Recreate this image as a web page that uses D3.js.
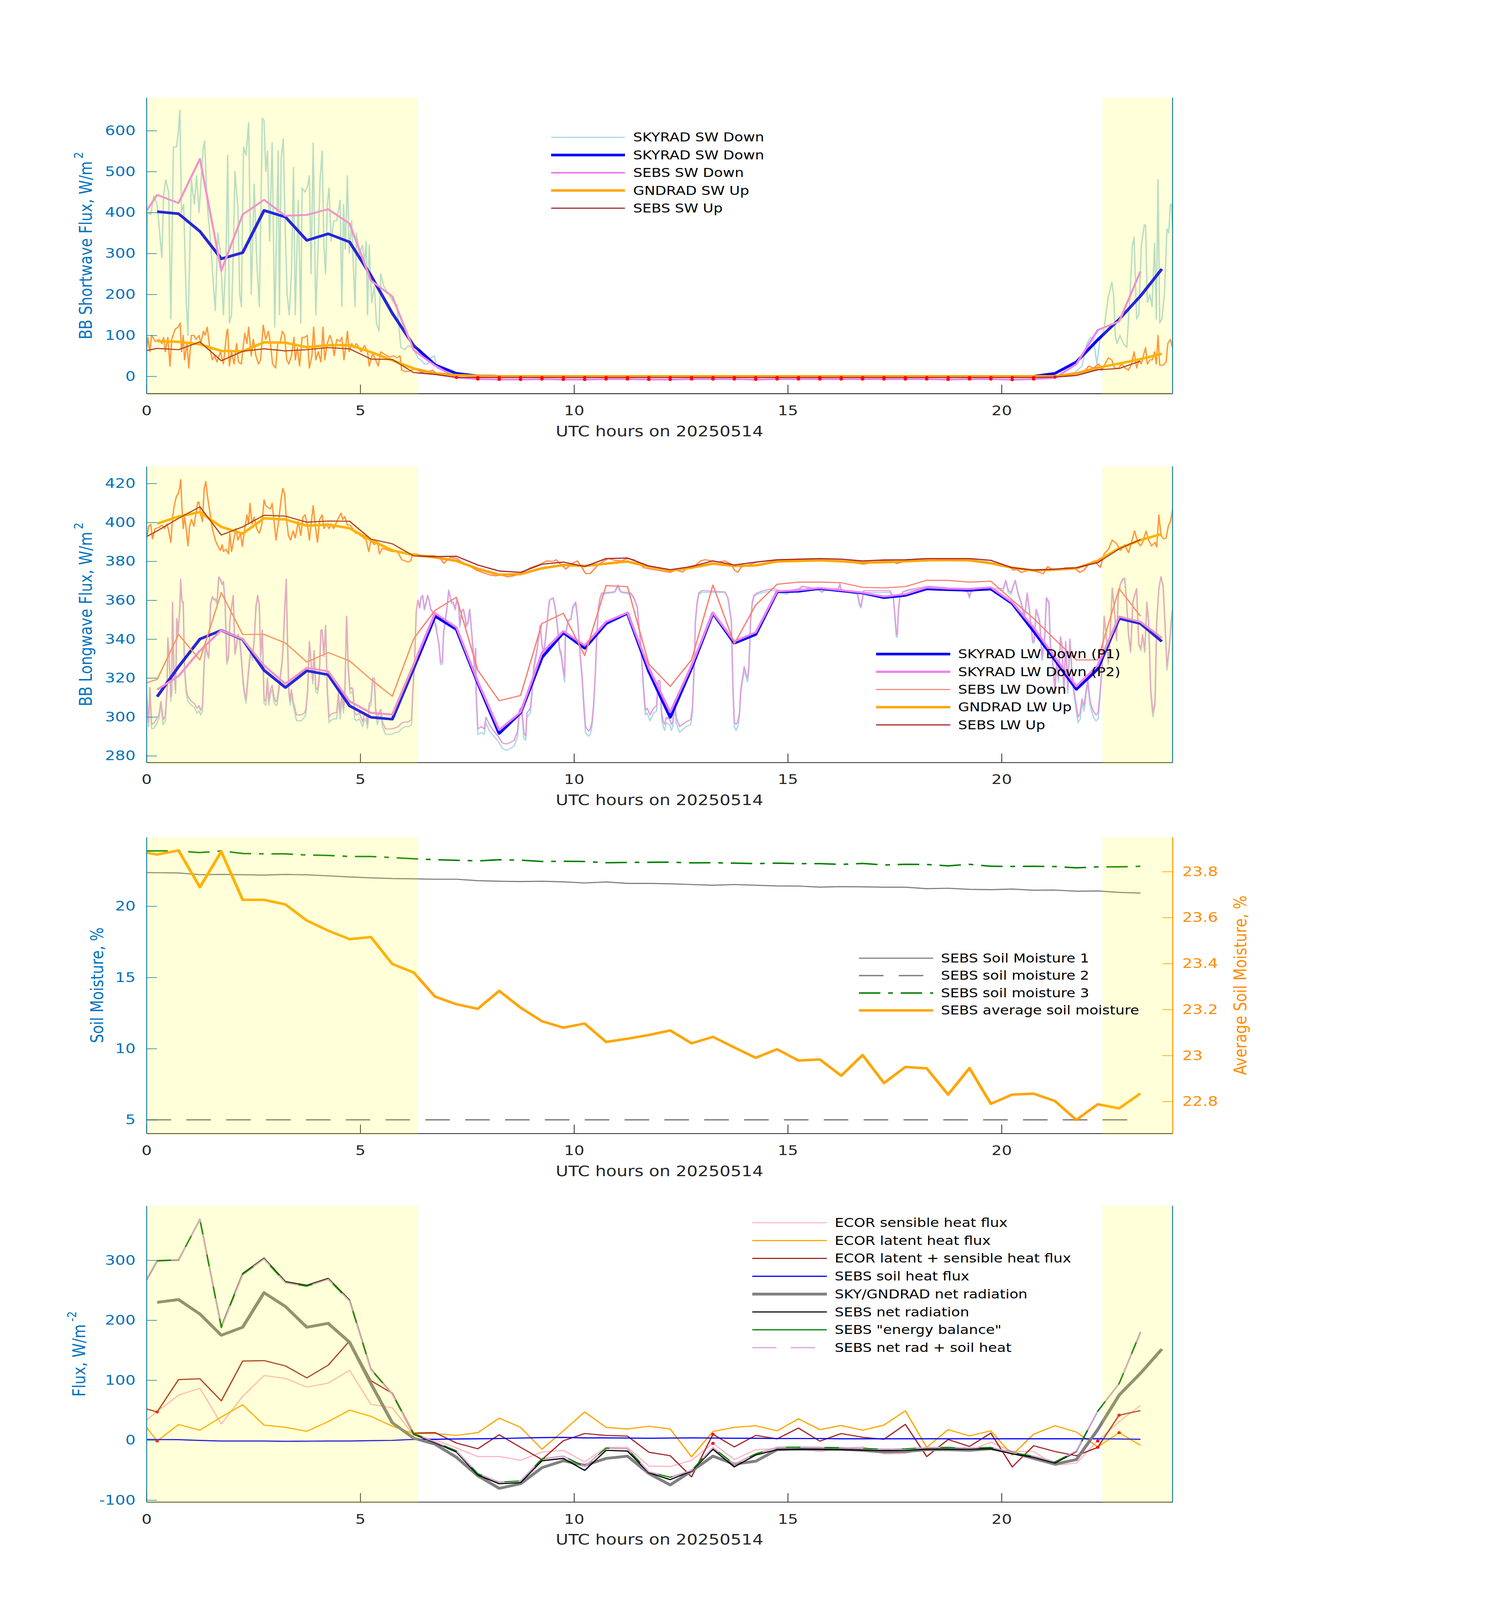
<!DOCTYPE html>
<html><head><meta charset="utf-8">
<script src="https://cdn.jsdelivr.net/npm/d3@7"></script>
<style>html,body{margin:0;padding:0;background:#fff;overflow:hidden;width:100%;height:100%;} svg{display:block;width:100vw;height:100vh;}</style>
</head><body>
<script>
// ---------------- DATA ----------------
const sebsTimes=[0,0.25,0.75,1.25,1.75,2.25,2.75,3.25,3.75,4.25,4.75,5.25,5.75,6.25,6.75,7.25,7.75,8.25,8.75,9.25,9.75,10.25,10.75,11.25,11.75,12.25,12.75,13.25,13.75,14.25,14.75,15.25,15.75,16.25,16.75,17.25,17.75,18.25,18.75,19.25,19.75,20.25,20.75,21.25,21.75,22.25,22.75,23.25];
const radTimes=[0.25,0.75,1.25,1.75,2.25,2.75,3.25,3.75,4.25,4.75,5.25,5.75,6.25,6.75,7.25,7.75,8.25,8.75,9.25,9.75,10.25,10.75,11.25,11.75,12.25,12.75,13.25,13.75,14.25,14.75,15.25,15.75,16.25,16.75,17.25,17.75,18.25,18.75,19.25,19.75,20.25,20.75,21.25,21.75,22.25,22.75,23.25,23.75];
const xTicks=[0,5,10,15,20];

// Panel 1: shortwave
const skySwAvg=[402,397,354,287,302,405,389,332,348,328,246,154,75,28,7,1,0,0,0,0,0,0,0,0,0,0,0,0,0,0,0,0,0,0,0,0,0,0,0,0,0,0,7,35,89,139,196,262];
const sebsSwDown=[404,443,423,531,258,395,431,392,394,408,373,234,195,64,26,-3,-7,-8,-8,-7,-8,-8,-7,-7,-8,-8,-7,-7,-7,-8,-7,-7,-7,-7,-7,-7,-7,-7,-8,-7,-7,-8.5,-7,-4,30,113,134,256];
const gndSwAvg=[86,84,78,62,61,83,82,71,76,76,59,39,19,7,3,1,0,0,0,0,0,0,0,0,0,0,0,0,0,0,0,0,0,0,0,0,0,0,0,0,0,0,0,7,21,31,42,55];
const sebsSwUp=[63,68,65,84,38,61,67,62,65,70,67,42,41,9,4.5,-3,-3,-3,-3,-3,-3,-3,-3,-3,-3,-3,-3,-3,-3,-3,-3,-3,-3,-3,-3,-3,-3,-3,-3,-3,-3,-3,-3,-2,2,16,19,37];
const sebsSwDownFlagTimes=[7.75,8.25,8.75,9.25,9.75,10.25,10.75,11.25,11.75,12.25,12.75,13.25,13.75,14.25,14.75,15.25,15.75,16.25,16.75,17.25,17.75,18.25,18.75,19.25,19.75,20.25,20.75];
const sebsSwUpFlagTimes=[7.25,7.75,8.25,8.75,9.25,9.75,10.25,10.75,11.25,11.75,12.25,12.75,13.25,13.75,14.25,14.75,15.25,15.75,16.25,16.75,17.25,17.75,18.25,18.75,19.25,19.75,20.25,20.75,21.25];
const skySwDownHi=[[0,250],[0.03,400],[0.10,395],[0.17,440],[0.25,420],[0.36,290],[0.40,440],[0.45,480],[0.52,450],[0.57,140],[0.63,560],[0.70,560],[0.74,590],[0.78,650],[0.82,400],[0.87,420],[0.93,185],[0.97,100],[1.05,480],[1.12,420],[1.17,490],[1.23,400],[1.29,500],[1.33,560],[1.36,575],[1.42,420],[1.50,330],[1.56,230],[1.61,160],[1.67,350],[1.73,300],[1.80,150],[1.86,300],[1.90,540],[1.94,130],[1.99,150],[2.03,300],[2.07,500],[2.14,410],[2.18,200],[2.22,170],[2.27,560],[2.33,540],[2.39,620],[2.45,200],[2.52,470],[2.58,280],[2.64,170],[2.71,630],[2.75,625],[2.79,500],[2.83,550],[2.88,330],[2.94,570],[3.00,120],[3.08,550],[3.11,150],[3.15,530],[3.20,580],[3.24,380],[3.29,200],[3.34,150],[3.39,250],[3.44,510],[3.48,150],[3.55,430],[3.61,130],[3.64,460],[3.70,450],[3.76,460],[3.81,490],[3.85,250],[3.90,570],[3.96,150],[4.02,330],[4.06,480],[4.11,550],[4.15,320],[4.19,250],[4.23,420],[4.27,460],[4.32,330],[4.38,380],[4.45,380],[4.53,430],[4.57,170],[4.61,420],[4.65,310],[4.70,490],[4.74,300],[4.80,380],[4.83,290],[4.88,170],[4.91,350],[4.98,300],[5.05,320],[5.10,280],[5.14,330],[5.17,150],[5.21,320],[5.27,180],[5.33,220],[5.38,130],[5.44,110],[5.48,250],[5.55,220],[5.67,200],[5.78,180],[5.86,175],[5.95,70],[6.05,65],[6.12,75],[6.23,70],[6.35,45],[6.42,40],[6.50,30],[6.58,30],[6.65,45],[6.73,50],[6.80,20],[6.92,15],[7.18,5],[7.56,1],[7.8,0],[21.4,0],[21.5,2],[21.65,8],[21.73,10],[21.88,25],[22.00,80],[22.08,95],[22.15,90],[22.23,30],[22.31,95],[22.39,110],[22.49,190],[22.58,230],[22.62,200],[22.66,100],[22.70,80],[22.77,100],[22.85,80],[22.93,70],[23.00,190],[23.06,320],[23.10,340],[23.16,140],[23.21,150],[23.27,320],[23.34,370],[23.37,370],[23.41,180],[23.47,200],[23.52,170],[23.58,325],[23.62,140],[23.66,480],[23.70,130],[23.75,140],[23.81,200],[23.87,360],[23.91,350],[23.95,420],[23.98,420],[24.0,360]];
const gndSwUpHi=[[0,60],[0.03,95],[0.08,60],[0.12,100],[0.21,85],[0.29,90],[0.36,80],[0.40,95],[0.44,60],[0.50,95],[0.55,25],[0.59,90],[0.67,115],[0.74,120],[0.79,130],[0.82,60],[0.86,100],[0.89,40],[0.95,80],[0.99,20],[1.05,100],[1.11,100],[1.16,90],[1.23,100],[1.27,80],[1.33,110],[1.37,100],[1.42,120],[1.48,70],[1.54,40],[1.59,50],[1.65,35],[1.73,60],[1.80,30],[1.88,110],[1.90,115],[1.94,25],[1.99,60],[2.05,30],[2.11,80],[2.15,35],[2.22,30],[2.26,70],[2.30,105],[2.35,80],[2.39,120],[2.45,50],[2.50,90],[2.56,50],[2.62,30],[2.67,40],[2.73,125],[2.79,90],[2.85,110],[2.90,80],[2.95,30],[3.02,20],[3.07,80],[3.13,85],[3.18,110],[3.23,100],[3.28,40],[3.33,30],[3.39,50],[3.45,95],[3.48,40],[3.53,70],[3.58,25],[3.64,95],[3.70,95],[3.76,100],[3.81,20],[3.87,50],[3.91,120],[3.96,40],[4.02,60],[4.08,35],[4.13,120],[4.17,40],[4.23,80],[4.29,100],[4.34,85],[4.39,50],[4.45,90],[4.52,85],[4.57,95],[4.62,40],[4.67,80],[4.70,110],[4.74,60],[4.80,80],[4.85,70],[4.91,80],[4.97,70],[5.02,60],[5.10,75],[5.17,60],[5.21,25],[5.29,55],[5.36,40],[5.42,25],[5.48,60],[5.55,55],[5.63,50],[5.70,47],[5.78,50],[5.86,45],[5.93,50],[5.97,15],[6.05,12],[6.16,12],[6.27,20],[6.42,10],[6.58,10],[6.69,15],[6.80,5],[7.03,3],[7.33,1],[7.6,0],[21.5,0],[21.7,5],[21.96,15],[22.04,25],[22.15,20],[22.27,30],[22.35,15],[22.42,30],[22.50,45],[22.58,40],[22.64,20],[22.73,20],[22.81,30],[22.89,20],[22.97,15],[23.04,30],[23.10,60],[23.16,20],[23.21,40],[23.27,30],[23.33,55],[23.37,70],[23.41,30],[23.47,40],[23.53,40],[23.58,60],[23.62,30],[23.66,100],[23.70,27],[23.78,27],[23.85,35],[23.89,80],[23.95,90],[24.0,70]];
const swTicks=[0,100,200,300,400,500,600];

// Panel 2: longwave
const skyLwP1Avg=[310.4,325.8,340,344.5,339.8,324,315.1,323.7,321.7,305.7,299.8,298.8,325,351.8,345,317.5,291.5,302.1,330.5,343.3,335.3,348,353.3,323.4,299.8,325.2,353.3,337.9,342.4,364.3,364.6,366,364.8,363.7,361.3,362.5,365.8,365.4,365.1,365.8,358.3,344.1,329.3,314.2,324.6,350.6,348,338.8];
const skyLwP2Avg=[314,321,334,344.5,340,326.4,317,325.2,323.4,308,302.1,301.2,327,353.3,346,318.1,293.3,302.4,332.9,344.1,336.7,348.9,353.6,325.2,302.4,326.4,353.6,338.8,343.5,364.6,365.1,366.3,365.1,363.9,361.9,363.1,366.6,366,365.8,366.6,358.9,345.9,330.5,315.7,326.4,351.6,348.9,340.6];
const sebsLwDown=[317.5,319.3,342.4,329.3,363.9,342.4,342.4,338,328.2,333.1,328.8,319.3,310.6,340.2,354.8,361.5,324,308.3,311,348,353.3,331.5,367.5,367,327.2,315.7,329.3,367.8,337.6,357.5,368.2,369.3,369.3,369,366.6,366.3,367,370.2,370.2,369.3,369.8,360.1,350.6,339.8,329.3,329.3,366,351.8];
const gndLwAvg=[399.4,403,405.3,397.7,394.2,402.1,401.5,398.3,398.9,397,390.9,385.6,383.2,382,380.2,376.1,373.1,373.4,376.4,378.1,377.6,378.8,379.9,377.3,375.3,376.7,378.8,377.6,377.9,379.9,380.2,380.5,380,379.3,379.5,380,380.5,380.6,380.5,379,376.7,375.3,375.7,376.4,380.2,386.7,390.9,394.1];
const sebsLwUp=[392.7,395.6,402.1,408,393.5,397.7,403.7,403.2,400.1,400.7,400.6,391.4,389,382.8,382.4,382.6,378.1,375,374.3,378.5,379.6,377.3,381.4,381.7,377.6,375.7,377.3,380.2,378.1,379.6,380.8,381.1,381.4,381.1,380.2,380.7,380.8,381.4,381.4,381.4,380.5,376.7,375.5,376,376.7,379.3,386.4,391.2];
const lwHiTimes=[0,0.05,0.08,0.12,0.17,0.23,0.29,0.34,0.39,0.44,0.48,0.50,0.53,0.57,0.59,0.61,0.64,0.68,0.71,0.74,0.78,0.80,0.83,0.86,0.89,0.93,0.97,1.05,1.12,1.18,1.23,1.27,1.31,1.35,1.39,1.42,1.46,1.50,1.54,1.58,1.61,1.65,1.69,1.73,1.77,1.80,1.84,1.88,1.92,1.95,1.99,2.03,2.07,2.11,2.14,2.18,2.22,2.26,2.30,2.33,2.37,2.41,2.45,2.48,2.52,2.56,2.60,2.64,2.67,2.71,2.75,2.79,2.83,2.86,2.90,2.94,2.98,3.02,3.05,3.09,3.13,3.17,3.20,3.24,3.27,3.30,3.33,3.36,3.39,3.43,3.47,3.51,3.62,3.70,3.73,3.77,3.81,3.85,3.89,3.92,3.96,4.00,4.04,4.08,4.11,4.15,4.19,4.23,4.27,4.30,4.38,4.45,4.49,4.53,4.57,4.61,4.64,4.68,4.72,4.76,4.80,4.83,4.87,4.91,4.98,5.06,5.10,5.14,5.17,5.21,5.25,5.29,5.33,5.36,5.40,5.44,5.48,5.52,5.59,5.74,5.82,5.89,5.97,6.05,6.12,6.20,6.23,6.27,6.31,6.35,6.39,6.42,6.46,6.50,6.54,6.58,6.61,6.65,6.69,6.73,6.77,6.80,6.84,6.88,6.92,6.95,6.99,7.03,7.07,7.11,7.14,7.18,7.22,7.26,7.30,7.33,7.37,7.41,7.45,7.48,7.52,7.56,7.64,7.67,7.70,7.71,7.75,7.83,7.90,7.94,8.02,8.09,8.17,8.24,8.32,8.39,8.45,8.60,8.68,8.72,8.75,8.79,8.83,8.87,8.90,8.98,9.02,9.06,9.13,9.21,9.25,9.28,9.32,9.36,9.40,9.43,9.51,9.55,9.59,9.62,9.66,9.70,9.74,9.78,9.80,9.86,9.93,9.97,10.04,10.08,10.12,10.15,10.19,10.23,10.27,10.34,10.38,10.42,10.46,10.50,10.53,10.57,10.61,10.65,10.95,11.03,11.06,11.10,11.33,11.40,11.48,11.56,11.63,11.67,11.71,11.78,11.86,11.93,11.97,12.01,12.05,12.09,12.12,12.16,12.24,12.28,12.31,12.35,12.39,12.47,12.62,12.73,12.77,12.81,12.84,12.88,12.92,12.99,13.53,13.60,13.68,13.72,13.75,13.79,13.83,13.87,13.90,13.94,13.98,14.02,14.06,14.09,14.13,14.17,14.21,14.28,14.43,14.66,14.97,15.04,15.27,15.34,15.72,15.80,15.87,16.18,16.22,16.25,16.63,16.67,16.71,16.75,16.78,17.39,17.47,17.50,17.54,17.56,17.59,17.62,17.69,17.84,18.15,18.30,18.75,19.06,19.21,19.25,19.28,19.36,19.97,20.04,20.10,20.16,20.22,20.32,20.39,20.46,20.54,20.60,20.65,20.73,20.76,20.81,20.89,20.95,21.01,21.05,21.11,21.14,21.20,21.25,21.29,21.33,21.38,21.41,21.46,21.50,21.55,21.60,21.64,21.69,21.79,21.84,21.88,21.93,21.98,22.02,22.07,22.12,22.17,22.21,22.26,22.31,22.36,22.40,22.45,22.50,22.54,22.59,22.64,22.69,22.73,22.78,22.83,22.88,22.92,22.97,23.02,23.07,23.11,23.16,23.21,23.26,23.30,23.35,23.40,23.44,23.49,23.54,23.59,23.63,23.68,23.73,23.78,23.82,23.87,23.92,23.97,24.00];
const skyLwP2Hi=[312.8,297.4,315.1,296.2,296.8,298.6,301,308,298.6,300.4,314,340.6,331.7,310.4,314,358.9,325.8,314,350.6,342.4,356.6,370.8,359.7,359,325.8,314,310.4,308,306.9,304.5,305.7,303.3,305.7,328.2,337.6,333.4,331.1,358.3,361.8,360.6,360.6,359.1,372,370.8,368.4,369.6,358.3,328.2,331.7,349.3,356.6,362.5,332.9,337.6,342.4,340,330.5,318.7,311.6,309.2,319.9,329.3,335.3,330.5,340,356.6,362.5,357.7,331.7,344.7,309.2,308,319.9,308,314,316.3,310.4,308,308,314,321,328.2,337.6,358.9,370.8,337.6,314,308,314,308,304.5,301,301,302.1,304.5,314,338.8,328.2,318.7,334.1,315.1,314,319.9,344.7,344.7,331.7,347.1,314,299.8,301,302.1,302.1,312.8,302.1,312.8,304.5,312.8,351.8,325.8,314,315.1,314,302.1,301,302.1,297.4,302.1,301,296.2,306.9,308,319.9,319.9,304.5,298.6,302.1,303.9,297.4,293.8,293.8,294.4,295,296.8,297.4,297.4,298.6,314,328.2,354.2,360.1,356,361.3,362.5,355.4,359,362.5,360.1,355.4,354.2,349.5,347.1,342.4,337.6,328.2,328.2,343.5,349.5,356.6,365.1,361.3,359,359,355.4,360.1,358,347.1,354.2,355.4,352,347.1,349,355.4,335.3,325.8,335.3,314,293.8,295,293.8,299.8,296.2,293.8,291.5,289.7,286.7,286.2,286.2,287.9,292.7,303.3,304.5,302.1,291.5,290.3,302.1,304.5,314,325.8,334.1,347.1,337.6,332.9,337.6,345.9,355.4,360.1,361.3,357.7,351.8,344.7,335.3,332.9,325.8,321,342.4,349.5,350.6,356.6,359,351.8,340,330.5,321,306.9,295,292.7,293.8,297.4,306.9,323.4,340,356.6,361.3,363.7,364.3,367.8,366,364.3,363.7,361.3,356.6,337.6,314,303.3,304.5,301,304.5,305.7,318.7,318.7,302.1,297.4,296.2,299.8,298.6,296.2,297.4,308,299.8,295,297.4,298.6,304.5,325.8,349.5,359,363.7,364.9,364.3,361.3,349.5,314,297.4,296.2,297.4,302.1,314,319.9,325.8,322.3,319.9,325.8,349.5,359,362.5,363.7,364.9,366,363.7,364.9,366,367.2,365.7,364.3,365.5,366,368.4,365.5,363.7,359,356.6,361.3,364.9,364.9,361.3,354.2,342.4,342.4,355.4,361.3,364.3,365.5,366.6,367.2,366.3,365.5,364.3,362,364.3,365.5,366,366,370.2,364.9,364,370.2,363.4,358.9,351.8,363.7,355.4,338.8,338.8,355.4,349.5,330.5,341.2,361.3,359,337.6,328.2,314,329.3,319.9,341.2,337.6,314,338.8,314,340,325.8,314,299.8,302.1,309.2,305.7,314,318.7,308,304.5,302.1,301,302.1,314,329.3,351.8,342.4,328.2,342.4,366.2,355.4,340,362.8,368.4,370.8,371.4,361.3,342.4,334.1,359,362.5,366,337.6,335.3,342.4,334.1,359,349.5,314,302.1,308,349.5,366.2,372,367.5,349.5,325.8,335.3,349.5,355.4];
const skyLwP1Hi=[311,295,313,294,294,296,299,306,296,298,312,340,331,308,312,358,324,312,350,342,356,370,359,358,324,312,308,306,305,302,303,301,303,327,337,332,330,358,361,360,360,358,371,370,368,369,358,327,330,349,356,362,332,337,342,339,329,317,310,307,318,328,334,329,339,356,362,357,330,344,307,306,318,306,312,314,308,306,306,312,319,327,337,358,370,337,312,306,312,306,302,298,298,300,302,312,338,327,317,333,313,312,318,344,344,331,346,312,297,298,299,299,310,299,310,302,311,351,324,312,313,312,299,298,299,295,299,298,294,305,306,318,318,302,296,299,301,295,291,291,292,292,294,295,295,296,312,327,354,360,356,361,362,355,358,362,360,355,354,349,346,342,337,327,327,343,349,356,365,361,358,358,355,360,357,346,354,355,351,346,348,355,334,324,334,312,291,292,291,297,293,291,289,287,284,283,283,285,290,301,302,300,289,288,300,302,312,324,333,346,337,332,337,345,355,360,361,357,351,344,334,331,324,318,341,349,350,356,358,351,339,329,319,304,292,290,291,295,305,322,339,356,361,363,364,367,365,364,363,361,356,337,312,301,302,298,302,303,317,317,299,295,293,297,296,293,295,306,297,292,295,296,302,324,349,358,363,364,364,361,349,312,295,293,295,300,312,318,324,321,318,324,349,358,362,363,364,365,363,364,365,367,365,364,365,365,368,365,363,358,356,361,364,364,361,353,341,341,355,361,364,365,366,367,366,365,364,361,364,365,365,365,370,364,363,370,363,358,351,363,355,338,338,355,349,329,340,361,358,337,327,312,328,318,340,337,312,338,312,339,324,312,297,299,307,303,312,317,306,302,299,298,299,312,328,351,342,327,342,366,355,339,362,368,370,371,361,342,333,358,362,365,337,334,342,333,358,349,312,300,306,349,366,372,367,349,324,334,349,355];
const gndLwUpHi=[[0,390.9],[0.05,398],[0.10,399],[0.14,391.5],[0.20,396.8],[0.29,397.4],[0.36,398.6],[0.42,396.8],[0.48,399.2],[0.52,395.6],[0.57,389.7],[0.61,402.7],[0.65,408.6],[0.70,413.4],[0.74,414.6],[0.78,418],[0.80,422],[0.83,407.5],[0.86,396.8],[0.89,402.7],[0.93,396.8],[0.97,387.9],[1.01,398],[1.05,401.5],[1.11,398],[1.16,405.1],[1.20,410.4],[1.23,410.4],[1.27,403.9],[1.31,400.4],[1.35,417.5],[1.39,421],[1.42,414.6],[1.46,408.6],[1.50,402.7],[1.54,396.8],[1.61,390.9],[1.67,387.9],[1.73,385.6],[1.77,388.5],[1.80,385],[1.86,386.2],[1.92,383.8],[1.95,394.4],[1.99,385],[2.03,389.7],[2.09,396.8],[2.14,390.9],[2.20,394.4],[2.24,387.6],[2.30,396.8],[2.35,403.9],[2.39,399.2],[2.42,409.8],[2.47,399.2],[2.52,402.7],[2.58,396.8],[2.64,394.4],[2.70,399.2],[2.75,411.6],[2.79,408.6],[2.85,407.5],[2.90,406.9],[2.94,409.8],[2.98,401.5],[3.03,390.9],[3.09,400.4],[3.15,412.2],[3.19,417.5],[3.23,414.6],[3.27,402.7],[3.32,393.3],[3.37,390.9],[3.43,395.6],[3.48,392],[3.55,400.4],[3.61,393.3],[3.66,402.7],[3.71,403.9],[3.77,398],[3.81,390.9],[3.85,399.2],[3.90,408.6],[3.95,398],[4.00,389.7],[4.05,401.5],[4.11,403.9],[4.15,396.8],[4.21,399.2],[4.27,396.8],[4.32,399.2],[4.38,396.8],[4.45,400.4],[4.55,404.8],[4.59,401.5],[4.64,403],[4.70,398.6],[4.76,398.6],[4.83,396.8],[4.89,394.4],[4.95,394.4],[5.00,393.3],[5.08,392.1],[5.14,390.9],[5.20,385],[5.25,390.9],[5.33,388.5],[5.40,390.2],[5.45,383.8],[5.52,386.7],[5.59,386.2],[5.67,385.6],[5.74,385],[5.82,385],[5.89,384.4],[5.97,380.8],[6.05,380.2],[6.12,379.6],[6.18,380.2],[6.23,383.8],[6.31,383.8],[6.42,382.9],[6.58,382.9],[6.73,382.9],[6.88,381.4],[6.95,379],[7.11,382],[7.26,381.4],[7.41,379],[7.56,377.6],[7.71,375.5],[7.86,374.3],[8.02,373.1],[8.17,372.5],[8.28,373.1],[8.45,372],[8.60,372.6],[8.75,373.7],[8.98,376.7],[9.21,378.5],[9.36,380.2],[9.51,380],[9.59,380.8],[9.70,378.1],[9.81,376.1],[9.97,379],[10.08,380.2],[10.19,376.7],[10.27,373.7],[10.38,373.7],[10.50,376.7],[10.65,379.6],[10.80,381.4],[10.95,380.5],[11.10,380.2],[11.25,381.4],[11.40,380.8],[11.52,379],[11.63,376.7],[11.78,376.1],[11.93,375.5],[12.09,374.9],[12.24,374.3],[12.39,375.5],[12.54,374.5],[12.69,377.3],[12.84,377.9],[12.96,380.2],[13.07,380.8],[13.22,380.2],[13.37,379.6],[13.53,380.2],[13.68,378.5],[13.75,375.5],[13.83,374.3],[13.90,376.7],[13.98,377.9],[14.13,378.5],[14.28,379.6],[14.51,380.2],[14.74,380.2],[14.97,380.2],[15.27,381.2],[15.50,380.5],[15.72,380.8],[15.95,380.2],[16.18,380.2],[16.40,379.6],[16.63,379],[16.78,378.5],[17.01,379.6],[17.24,380.2],[17.47,380.2],[17.54,378.8],[17.77,380.2],[18.00,380.5],[18.45,380.5],[19.06,380.5],[19.36,380.5],[19.66,379.6],[19.97,377.9],[20.18,377.3],[20.27,375.5],[20.37,375.7],[20.46,374.3],[20.65,375.5],[20.84,374.5],[20.98,373.7],[21.08,377.3],[21.17,376.1],[21.31,375.5],[21.50,376.7],[21.69,376.7],[21.83,374.3],[21.93,375.5],[22.02,378.1],[22.17,380.2],[22.31,376.9],[22.40,383.8],[22.50,386.2],[22.59,390.9],[22.69,389.1],[22.78,385.6],[22.88,388.5],[22.97,384.4],[23.04,389.7],[23.11,395.6],[23.19,389.7],[23.25,387.9],[23.30,389.7],[23.38,395.6],[23.44,390.9],[23.51,387.9],[23.59,389.7],[23.63,387.3],[23.68,403.9],[23.73,393.3],[23.79,391.5],[23.85,392],[23.90,398],[23.95,400.4],[23.99,405.1],[24.0,406.9]];
const lwTicks=[280,300,320,340,360,380,400,420];

// Panel 3: soil moisture
const sebsSm1=[22.36,22.35,22.33,22.21,22.23,22.21,22.18,22.23,22.2,22.13,22.05,21.99,21.94,21.92,21.89,21.89,21.79,21.75,21.73,21.75,21.71,21.63,21.7,21.6,21.6,21.57,21.52,21.47,21.52,21.47,21.42,21.41,21.34,21.37,21.36,21.33,21.33,21.23,21.26,21.18,21.16,21.2,21.12,21.13,21.05,21.07,20.97,20.92];
const sebsSm2=[5,5,5,5,5,5,5,5,5,5,5,5,5,5,5,5,5,5,5,5,5,5,5,5,5,5,5,5,5,5,5,5,5,5,5,5,5,5,5,5,5,5,5,5,5,5,5,5];
const sebsSm3=[23.88,23.88,23.88,23.76,23.88,23.7,23.67,23.67,23.59,23.56,23.49,23.49,23.41,23.33,23.26,23.22,23.18,23.26,23.23,23.14,23.15,23.14,23.05,23.07,23.08,23.09,23.04,23.05,23.02,22.99,23.02,22.99,22.99,22.93,23.0,22.89,22.94,22.93,22.83,22.94,22.8,22.79,22.8,22.78,22.69,22.76,22.76,22.8];
const sebsSmAvg=[23.882,23.874,23.892,23.732,23.887,23.677,23.677,23.657,23.587,23.543,23.506,23.515,23.398,23.361,23.256,23.223,23.203,23.281,23.208,23.149,23.121,23.139,23.059,23.073,23.089,23.109,23.053,23.081,23.035,22.99,23.027,22.978,22.983,22.912,23.002,22.88,22.95,22.944,22.83,22.945,22.79,22.83,22.834,22.802,22.72,22.788,22.77,22.835];
const smTicks=[5,10,15,20];
const smAvgTicks=[22.8,23,23.2,23.4,23.6,23.8];

// Panel 4: energy fluxes
const ecorSensible=[33,48,75,86.6,27,73,107.7,103,88.5,95,116.5,59.7,54,7.9,0.4,-13,-27.4,-27.4,-33.6,-19.8,-17,-36.3,-12.1,-12.1,-43.2,-44,-33.6,-5.4,-32.4,-16,-14,-14.4,-19,-14.4,-11.3,-22.8,-22,-13,-14.4,-17,-3.5,-18.8,-18.8,-42,-38.2,-1.5,31,57.8];
const ecorLatent=[21.3,-1.5,26,16.5,38.6,59,25.1,21.3,14.8,30.9,50,39.7,23.2,10.9,10.9,7.9,12.5,36.7,21.3,-15.2,15.5,47,21.3,18.6,23.2,18.6,-27.8,14.4,21.3,24,15.5,35.5,17.5,24.4,16.5,25.1,48.9,-12.1,17.5,7.1,15.5,-24.8,9.8,24,13.6,-11.3,12.5,-8.6];
const ecorSum=[52,47,101,102.3,65.5,131.9,132.6,123.8,103.8,125,165.3,99.2,78.1,11.7,12.5,-4.8,-14.4,9,-12,-32.4,-1,11,7.9,6.7,-20.2,-26,-61.2,9.8,-11.3,7.9,2.1,20.2,-1.7,11,4.8,1.4,26.3,-27.4,1,-10.5,11.7,-44.7,-9.4,-19,-26,-12.1,41.6,49.3];
const sebsSoilHeat=[1.2,1,0.8,-0.5,-1.5,-1.5,-1.5,-1.9,-1.7,-1.5,-1.5,-0.8,-0.4,1.2,1.5,1.9,2.3,2.7,3.5,4.2,4.6,3.8,3.8,3.5,3.1,3.5,3.8,3.5,3.1,3.1,2.7,2.7,2.7,2.3,2.3,2.3,2.3,2.3,2.3,2.3,2.3,2.3,2.3,2.3,2.3,2.3,1.9,1.5];
const skyGndNet=[229.8,234.4,210.2,174.9,188.3,245.9,222.8,188.3,194.8,163.3,94.2,29,3.3,-6.7,-28.6,-59.3,-80.4,-72.7,-45.9,-34.4,-42,-30.5,-26.7,-55.5,-74.7,-51.6,-26.7,-40.1,-35.1,-15.9,-15.2,-15.2,-15.2,-17,-19.8,-19,-15.9,-15.9,-17,-14.4,-20.9,-30.5,-40.1,-32.4,17.5,75,111.5,151.8];
const sebsNetRad=[267,298.8,300.4,368,189.1,277.7,303.5,264.3,258.2,269.7,233.6,118.4,77,9.8,-4.4,-19.8,-58.2,-72.7,-70.8,-34.4,-30.5,-50.5,-17,-18.2,-54.3,-65.8,-51.6,-15.2,-44.7,-24.8,-15.9,-15.2,-15.5,-15.9,-16.7,-17.4,-17,-15.2,-15.2,-15.2,-14.4,-22.8,-28.6,-38.2,-19,48.2,94.2,179.8];
const sebsEnergyBal=[268,299.5,301,367.5,187.6,276.2,302,262.4,256.5,268.2,232.1,117.6,76.6,11,-2.9,-17.9,-55.9,-70,-68,-31.3,-26.7,-44,-13.3,-14.4,-52.8,-62,-50.5,-12.5,-40.1,-22.8,-12.1,-11.7,-12.1,-12.5,-13.6,-15.2,-14.4,-12.5,-12.1,-13.3,-12.1,-20.9,-26.7,-36.3,-18.2,48.2,94.2,180.6];
const sebsNetPlusSoil=[268,299.5,301,367.5,187.6,276.2,302,262.4,256.5,268.2,232.1,117.6,76.6,11,-2.9,-17.9,-55.9,-70,-68,-31.3,-26.7,-44,-13.3,-14.4,-52.8,-62,-50.5,-12.5,-40.1,-22.8,-12.1,-11.7,-12.1,-12.5,-13.6,-15.2,-14.4,-12.5,-12.1,-13.3,-12.1,-20.9,-26.7,-36.3,-18.2,48.2,94.2,180.6];
const ecorSensibleFlagTimes=[13.25,22.25];
const ecorLatentFlagTimes=[0.25,22.75];
const ecorSumFlagTimes=[0.25,13.25,22.25,22.75];
const fluxTicks=[-100,0,100,200,300];

// daylight shading spans, hours
const shadeSpans=[[0,6.35],[22.36,24]];

// ---------------- DRAWING ----------------
const W=3825,H=4875;
const FONT='"DejaVu Sans", sans-serif';
const AXBLUE='#0072bd', AXDARK='#262626', RORANGE='#ff8c00';
const svg=d3.select('body').append('svg').attr('viewBox',`0 0 ${W} ${H}`).attr('preserveAspectRatio','none');
svg.append('rect').attr('width',W).attr('height',H).attr('fill','#fff');
const x=d3.scaleLinear().domain([0,24]).range([375,3002]);

function pts(times,vals){return times.map((t,i)=>[t,vals[i]]);}
function pick(times,vals,sel){return sel.map(t=>[t,vals[times.indexOf(t)]]);}

function makePanel(id,top,bottom,dom){
  const y=d3.scaleLinear().domain(dom).range([bottom,top]);
  svg.append('clipPath').attr('id','clip'+id).append('rect')
    .attr('x',x(0)).attr('y',top).attr('width',x(24)-x(0)).attr('height',bottom-top);
  const g=svg.append('g');
  const plot=g.append('g').attr('clip-path',`url(#clip${id})`);
  return {y,g,plot,top,bottom};
}
function line(p,data,y,st){
  p.plot.append('path').datum(data)
   .attr('d',d3.line().x(d=>x(d[0])).y(d=>y(d[1])))
   .attr('fill','none').attr('stroke',st.c).attr('stroke-width',st.w)
   .attr('stroke-linejoin','round').attr('stroke-dasharray',st.dash||null);
}
function dots(p,data,y){
  p.plot.selectAll(null).data(data).enter().append('circle')
   .attr('cx',d=>x(d[0])).attr('cy',d=>y(d[1])).attr('r',4.5).attr('fill','#ff0000');
}
function axes(p,ticks,opts){
  const xa=d3.axisBottom(x).tickValues(xTicks).tickSize(-27).tickSizeOuter(0).tickPadding(37).tickFormat(d=>String(d));
  const gx=p.g.append('g').attr('transform',`translate(0,${p.bottom})`).call(xa);
  gx.select('.domain').attr('stroke',AXDARK).attr('stroke-width',2.5);
  gx.selectAll('.tick line').attr('stroke',AXDARK).attr('stroke-width',2);
  gx.selectAll('text').attr('fill',AXDARK).attr('font-size',41).attr('font-family',FONT);
  const ya=d3.axisLeft(p.y).tickValues(ticks).tickSize(-27).tickSizeOuter(0).tickPadding(28).tickFormat(d=>String(d));
  const gy=p.g.append('g').attr('transform',`translate(${x(0)},0)`).call(ya);
  gy.select('.domain').attr('stroke',AXBLUE).attr('stroke-width',2.5);
  gy.selectAll('.tick line').attr('stroke',AXBLUE).attr('stroke-width',2);
  gy.selectAll('text').attr('fill',AXBLUE).attr('font-size',41).attr('font-family',FONT);
  if(!opts||!opts.noRightLine){
    p.g.append('line').attr('x1',x(24)).attr('x2',x(24)).attr('y1',p.top).attr('y2',p.bottom)
     .attr('stroke',AXBLUE).attr('stroke-width',2.5);
  }
  p.g.append('text').attr('x',(x(0)+x(24))/2).attr('y',p.bottom+130).attr('text-anchor','middle')
   .attr('font-family',FONT).attr('font-size',44).attr('fill',AXDARK).text('UTC hours on 20250514');
}
function ylabel(p,cx,main,sup,color){
  const cy=(p.top+p.bottom)/2;
  const t=p.g.append('text').attr('transform',`translate(${cx},${cy}) rotate(-90)`)
    .attr('text-anchor','middle').attr('dominant-baseline','central')
    .attr('font-family',FONT).attr('font-size',44).attr('fill',color||AXBLUE);
  t.append('tspan').text(main);
  if(sup){t.append('tspan').attr('dx',8).attr('baseline-shift','super').attr('font-size',32).text(sup);}
}
function shade(p){
  shadeSpans.forEach(s=>{
    p.g.append('rect').attr('x',x(s[0])).attr('width',x(s[1])-x(s[0]))
     .attr('y',p.top).attr('height',p.bottom-p.top+5)
     .attr('fill','#ffff00').attr('fill-opacity',0.15);
  });
}
function legend(p,x0,x1,xt,y0,dy,items){
  const lg=p.g.append('g');
  items.forEach((it,i)=>{
    const yy=y0+i*dy;
    lg.append('line').attr('x1',x0).attr('x2',x1).attr('y1',yy).attr('y2',yy)
      .attr('stroke',it.c).attr('stroke-width',it.w).attr('stroke-dasharray',it.dash||null);
    lg.append('text').attr('x',xt).attr('y',yy).attr('dominant-baseline','central')
      .attr('font-family',FONT).attr('font-size',37).attr('fill','#000').text(it.label);
  });
}

// ----- Panel 1 -----
{
  const p=makePanel(1,297.7,1199.1,[-42.2,680.4]);
  const y=p.y;
  line(p,skySwDownHi,y,{c:'#add8e6',w:3.5});
  line(p,gndSwUpHi,y,{c:'#ff8547',w:3.5});
  line(p,pts(radTimes,skySwAvg),y,{c:'#0000ff',w:8});
  line(p,pts(sebsTimes,sebsSwDown),y,{c:'#ee82ee',w:5.5});
  line(p,pts(radTimes,gndSwAvg),y,{c:'#ffa500',w:7.5});
  line(p,pts(sebsTimes,sebsSwUp),y,{c:'#a52a2a',w:3.5});
  dots(p,pick(sebsTimes,sebsSwDown,sebsSwDownFlagTimes),y);
  dots(p,pick(sebsTimes,sebsSwUp,sebsSwUpFlagTimes),y);
  axes(p,swTicks);
  shade(p);
  ylabel(p,220,'BB Shortwave Flux, W/m','2');
  legend(p,1411,1600,1621,418.4,54,[
    {label:'SKYRAD SW Down',c:'#add8e6',w:3.5},
    {label:'SKYRAD SW Down',c:'#0000ff',w:8},
    {label:'SEBS SW Down',c:'#ee82ee',w:5.5},
    {label:'GNDRAD SW Up',c:'#ffa500',w:7.5},
    {label:'SEBS SW Up',c:'#a52a2a',w:3.5}]);
}
// ----- Panel 2 -----
{
  const p=makePanel(2,1421,2323,[276.6,428.8]);
  const y=p.y;
  line(p,pts(lwHiTimes,skyLwP1Hi),y,{c:'#add8e6',w:3.5});
  line(p,pts(lwHiTimes,skyLwP2Hi),y,{c:'#dda0dd',w:3.5});
  line(p,gndLwUpHi,y,{c:'#ff8547',w:3.5});
  line(p,pts(radTimes,skyLwP1Avg),y,{c:'#0000ff',w:8});
  line(p,pts(radTimes,skyLwP2Avg),y,{c:'#ee82ee',w:6});
  line(p,pts(sebsTimes,sebsLwDown),y,{c:'#fa8072',w:3.5});
  line(p,pts(radTimes,gndLwAvg),y,{c:'#ffa500',w:7.5});
  line(p,pts(sebsTimes,sebsLwUp),y,{c:'#a52a2a',w:3.5});
  axes(p,lwTicks);
  shade(p);
  ylabel(p,220,'BB Longwave Flux, W/m','2');
  legend(p,2243,2433,2453,1992.8,54,[
    {label:'SKYRAD LW Down (P1)',c:'#0000ff',w:8},
    {label:'SKYRAD LW Down (P2)',c:'#ee82ee',w:7},
    {label:'SEBS LW Down',c:'#fa8072',w:3.5},
    {label:'GNDRAD LW Up',c:'#ffa500',w:7.5},
    {label:'SEBS LW Up',c:'#a52a2a',w:3.5}]);
}
// ----- Panel 3 -----
{
  const p=makePanel(3,2550.5,3453.4,[4.046,24.85]);
  const y=p.y;
  const yR=d3.scaleLinear().domain([22.661,23.95]).range([p.bottom,p.top]);
  line(p,pts(sebsTimes,sebsSm1),y,{c:'#808080',w:3.5});
  line(p,pts(sebsTimes,sebsSm2),y,{c:'#808080',w:4,dash:'63,39'});
  line(p,pts(sebsTimes,sebsSm3),y,{c:'#008000',w:4.5,dash:'55,20,12,20'});
  line(p,pts(sebsTimes,sebsSmAvg),yR,{c:'#ffa500',w:7.5});
  axes(p,smTicks,{noRightLine:true});
  const ra=d3.axisRight(yR).tickValues(smAvgTicks).tickSize(-26).tickSizeOuter(0).tickPadding(25).tickFormat(d=>String(Math.round(d*10)/10));
  const gr=p.g.append('g').attr('transform',`translate(${x(24)},0)`).call(ra);
  gr.select('.domain').attr('stroke',RORANGE).attr('stroke-width',2.5);
  gr.selectAll('.tick line').attr('stroke',RORANGE).attr('stroke-width',2);
  gr.selectAll('text').attr('fill',RORANGE).attr('font-size',41).attr('font-family',FONT);
  shade(p);
  ylabel(p,249,'Soil Moisture, %',null);
  ylabel(p,3176,'Average Soil Moisture, %',null,RORANGE);
  legend(p,2199,2389,2409,2919.5,53,[
    {label:'SEBS Soil Moisture 1',c:'#808080',w:3.5},
    {label:'SEBS soil moisture 2',c:'#808080',w:4,dash:'63,39'},
    {label:'SEBS soil moisture 3',c:'#008000',w:4.5,dash:'55,20,12,20'},
    {label:'SEBS average soil moisture',c:'#ffa500',w:7.5}]);
}
// ----- Panel 4 -----
{
  const p=makePanel(4,3674.2,4576.3,[-103.1,390.6]);
  const y=p.y;
  line(p,pts(sebsTimes,ecorSensible),y,{c:'#ffb6c1',w:3.5});
  line(p,pts(sebsTimes,ecorLatent),y,{c:'#ffa500',w:3.5});
  line(p,pts(sebsTimes,ecorSum),y,{c:'#a52a2a',w:3.5});
  line(p,pts(sebsTimes,sebsSoilHeat),y,{c:'#0000ff',w:3.5});
  line(p,pts(radTimes,skyGndNet),y,{c:'#808080',w:8.5});
  line(p,pts(sebsTimes,sebsNetRad),y,{c:'#000000',w:3.5});
  line(p,pts(sebsTimes,sebsEnergyBal),y,{c:'#008000',w:3.5});
  line(p,pts(sebsTimes,sebsNetPlusSoil),y,{c:'#dda0dd',w:3.5,dash:'62,37'});
  dots(p,pick(sebsTimes,ecorSensible,ecorSensibleFlagTimes),y);
  dots(p,pick(sebsTimes,ecorLatent,ecorLatentFlagTimes),y);
  dots(p,pick(sebsTimes,ecorSum,ecorSumFlagTimes),y);
  axes(p,fluxTicks);
  shade(p);
  ylabel(p,203,'Flux, W/m','-2');
  legend(p,1926,2117,2137,3725.4,54.4,[
    {label:'ECOR sensible heat flux',c:'#ffb6c1',w:3.5},
    {label:'ECOR latent heat flux',c:'#ffa500',w:3.5},
    {label:'ECOR latent + sensible heat flux',c:'#a52a2a',w:3.5},
    {label:'SEBS soil heat flux',c:'#0000ff',w:3.5},
    {label:'SKY/GNDRAD net radiation',c:'#808080',w:8.5},
    {label:'SEBS net radiation',c:'#000000',w:3.5},
    {label:'SEBS "energy balance"',c:'#008000',w:3.5},
    {label:'SEBS net rad + soil heat',c:'#dda0dd',w:3.5,dash:'62,37'}]);
}
</script>
</body></html>
